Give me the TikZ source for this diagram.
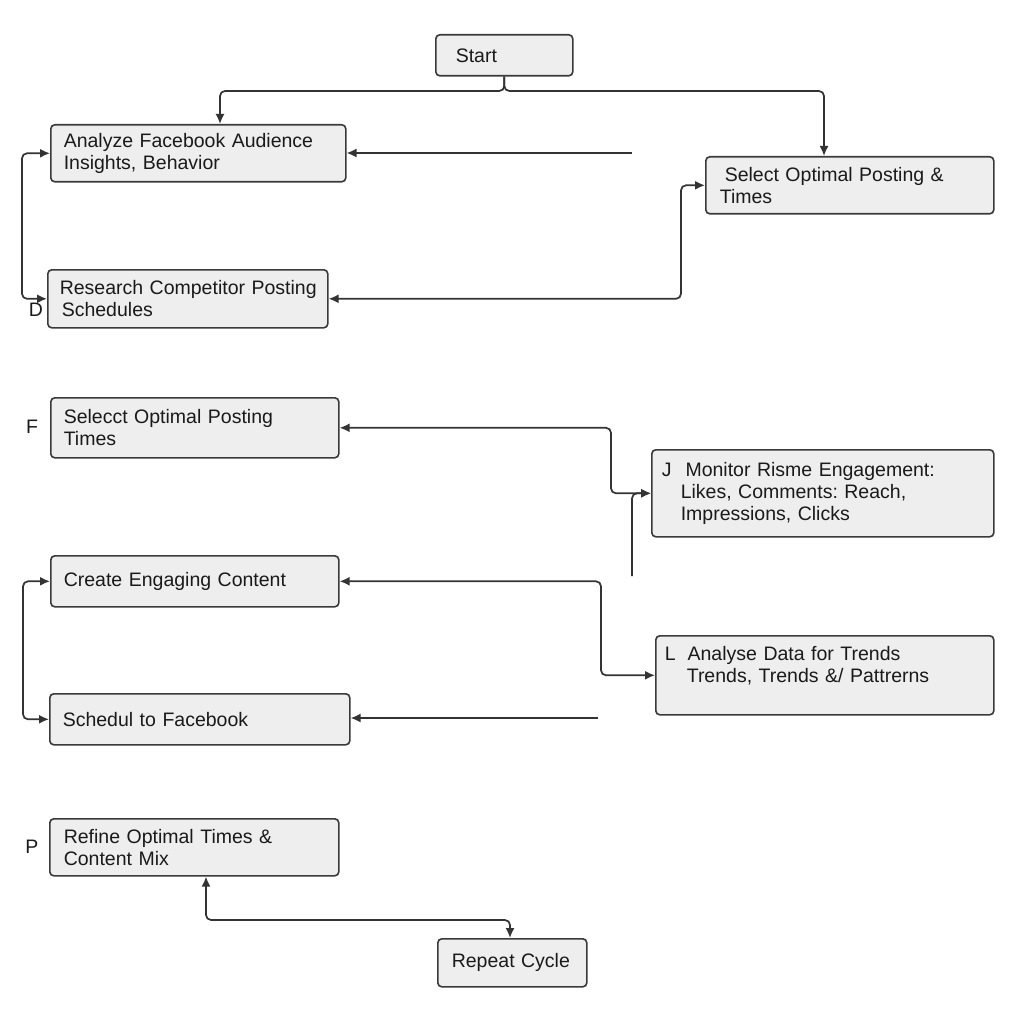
\documentclass[tikz,border=0pt]{standalone}
\usepackage{fontspec}
\setmainfont{Liberation Sans}
\usetikzlibrary{arrows.meta}
\definecolor{boxfill}{HTML}{EEEEEE}
\definecolor{boxline}{HTML}{3A3A3A}
\definecolor{lin}{HTML}{333333}
\definecolor{txt}{HTML}{1A1A1A}
\frenchspacing
\begin{document}
\begin{tikzpicture}[x=1pt,y=-1pt,
  box/.style={draw=boxline, fill=boxfill, line width=1.6pt, rounded corners=4pt,
    anchor=north west, align=left, inner ysep=0pt, text=txt,
    font=\fontsize{19.5}{22}\selectfont},
  tag/.style={text=txt, font=\fontsize{19.5}{22}\selectfont, inner sep=0pt},
  conn/.style={draw=lin, line width=1.7pt, rounded corners=5pt},
  arr/.style={conn, -{Latex[length=10pt,width=9pt]}},
  dbl/.style={conn, {Latex[length=10pt,width=9pt]}-{Latex[length=10pt,width=9pt]}}
]
\fill[white] (0,0) rectangle (1024,1024);
\useasboundingbox (0,0) rectangle (1024,1024);

% boxes
\node[box, minimum width=137pt, minimum height=41pt, inner xsep=20pt, text width=97pt] (St) at (435,34) {Start};
\node[box, minimum width=295pt, minimum height=57pt, inner xsep=13pt, text width=269pt] (A) at (50,124)
  {\mbox{Analyze Facebook Audience}\\Insights, Behavior};
\node[box, minimum width=288pt, minimum height=57pt, inner xsep=14pt, text width=260pt] (S) at (705,156)
  {\hspace*{5pt}\mbox{Select Optimal Posting \&}\\Times};
\node[box, minimum width=280pt, minimum height=58pt, inner xsep=12pt, text width=256pt] (R) at (47,269)
  {\mbox{Research Competitor Posting}\\\hspace*{2pt}Schedules};
\node[box, minimum width=288pt, minimum height=60pt, inner xsep=13pt, text width=262pt] (F) at (50,397)
  {\mbox{Selecct Optimal Posting}\\Times};
\node[box, minimum width=342pt, minimum height=87pt, inner xsep=10pt, text width=322pt] (M) at (651,449)
  {\mbox{J\hspace*{14pt}Monitor Risme Engagement:}\\\hspace*{19pt}\mbox{Likes, Comments: Reach,}\\\hspace*{19pt}\mbox{Impressions, Clicks}};
\node[box, minimum width=288pt, minimum height=51pt, inner xsep=13pt, text width=262pt] (C) at (50,555)
  {\mbox{Create Engaging Content}};
\node[box, minimum width=338pt, minimum height=79pt, inner xsep=9pt, text width=320pt] (An) at (655,635)
  {\mbox{L\hspace*{12pt}Analyse Data for Trends}\\\hspace*{22pt}\mbox{Trends, Trends \&/ Pattrerns}\\\mbox{}};
\node[box, minimum width=300pt, minimum height=51pt, inner xsep=13pt, text width=274pt] (Sc) at (49,693)
  {\mbox{Schedul to Facebook}};
\node[box, minimum width=289pt, minimum height=57pt, inner xsep=14pt, text width=261pt] (Rf) at (49,818)
  {\mbox{Refine Optimal Times \&}\\Content Mix};
\node[box, minimum width=149pt, minimum height=48pt, inner xsep=14pt, text width=121pt] (Rp) at (437,938)
  {\mbox{Repeat Cycle}};

% side letters
\node[tag] (tD) at (36,310) {D};
\node[tag] (tF) at (32,427) {F};
\node[tag] (tP) at (32,847) {P};

% helper coordinates
\coordinate (aL) at (220,91);
\coordinate (sR) at (824,91);
\coordinate (c2) at (632,153);
\coordinate (l1) at (22,0);
\coordinate (c4) at (681,0);
\coordinate (c5) at (611,0);
\coordinate (c6) at (632,576);
\coordinate (c7) at (601,0);
\coordinate (l2) at (23,0);
\coordinate (c9) at (598,718);
\coordinate (c10) at (206,920);
\coordinate (c10b) at (510,920);

% connectors
\draw[arr] (St.south) -- (St.south |- aL) -- (aL) -- (aL |- A.north);
\draw[arr] (St.south) -- (St.south |- sR) -- (sR) -- (sR |- S.north);
\draw[arr] (c2) -- (c2 -| A.east);
\draw[dbl] (A.west) -- (A.west -| l1) -- (R.west -| l1) -- (R.west);
\draw[dbl] (R.east) -- (R.east -| c4) -- (S.west -| c4) -- (S.west);
\draw[dbl] (F.east) -- (F.east -| c5) -- (M.west -| c5) -- (M.west);
\draw[arr] (c6) -- (c6 |- M.west) -- (M.west);
\draw[dbl] (C.east) -- (C.east -| c7) -- (An.west -| c7) -- (An.west);
\draw[dbl] (C.west) -- (C.west -| l2) -- (Sc.west -| l2) -- (Sc.west);
\draw[arr] (c9) -- (c9 -| Sc.east);
\draw[dbl] (c10 |- Rf.south) -- (c10) -- (c10b) -- (c10b |- Rp.north);
\end{tikzpicture}
\end{document}
